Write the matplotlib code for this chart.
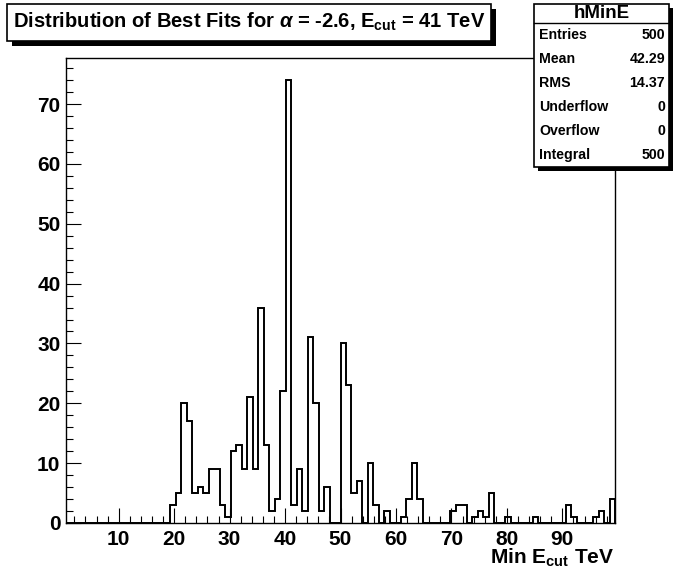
import numpy as np
import matplotlib
matplotlib.use("Agg")
import matplotlib.pyplot as plt
from matplotlib.patches import Rectangle
from matplotlib.ticker import MultipleLocator, FixedLocator

plt.rcParams['font.family'] = ['Liberation Sans', 'DejaVu Sans']
plt.rcParams['font.weight'] = 'bold'
plt.rcParams['mathtext.fontset'] = 'custom'
plt.rcParams['mathtext.rm'] = 'Liberation Sans:bold'
plt.rcParams['mathtext.bf'] = 'Liberation Sans:bold'
plt.rcParams['mathtext.it'] = 'Liberation Sans:italic'

# ---- data: best-fit E_cut values (TeV) and how many fits landed there ----
ecut_values = [20, 21, 22, 23, 24, 25, 26, 27, 28, 29, 30, 31, 32, 33, 34, 35,
               36, 37, 38, 39, 40, 41, 42, 43, 44, 45, 46, 47, 48, 50, 51, 52,
               53, 55, 56, 58, 61, 62, 63, 64, 70, 71, 72, 74, 75, 76, 77, 80,
               85, 91, 92, 96, 97, 99]
fit_counts = [3, 5, 20, 17, 5, 6, 5, 9, 9, 3, 1, 12, 13, 9, 21, 9,
              36, 13, 2, 4, 22, 74, 3, 9, 2, 31, 20, 2, 6, 30, 23, 5,
              7, 10, 3, 2, 1, 4, 10, 4, 2, 3, 3, 1, 2, 1, 5, 1,
              1, 3, 1, 1, 2, 4]
n_bins = 100
x_low, x_high = 0.5, 99.5

x_major_ticks = [10, 20, 30, 40, 50, 60, 70, 80, 90]
y_major_ticks = [0, 10, 20, 30, 40, 50, 60, 70]

title_text = r'Distribution of Best Fits for $\alpha$ = -2.6, E$_{\rm cut}$ = 41 TeV'
xlabel_text = r'Min E$_{\rm cut}$ TeV'
stats_name = 'hMinE'
stats_labels = ['Entries', 'Mean', 'RMS', 'Underflow', 'Overflow', 'Integral']
stats_values = ['500', '42.29', '14.37', '0', '0', '500']

# ---- figure ----
W, H = 678, 581
fig = plt.figure(figsize=(W / 100, H / 100), dpi=100)
fig.patch.set_facecolor('white')

ax_l, ax_r, ax_t, ax_b = 66, 615, 58, 523
ax = fig.add_axes([ax_l / W, 1 - ax_b / H, (ax_r - ax_l) / W, (ax_b - ax_t) / H])

edges = np.linspace(x_low, x_high, n_bins + 1)
ax.hist(ecut_values, bins=edges, weights=fit_counts, histtype='step',
        color='black', linewidth=1.4)

ax.set_xlim(x_low, x_high)
ax.set_ylim(0, max(fit_counts) * 1.05)

ax.xaxis.set_major_locator(FixedLocator(x_major_ticks))
ax.xaxis.set_minor_locator(MultipleLocator(2))
ax.yaxis.set_major_locator(FixedLocator(y_major_ticks))
ax.yaxis.set_minor_locator(MultipleLocator(2))
ax.tick_params(which='both', direction='in', top=False, right=False,
               labelsize=15, width=0.8)
ax.tick_params(which='major', length=10.5)
ax.tick_params(which='minor', length=5.2)
ax.tick_params(axis='x', pad=5)
ax.tick_params(axis='y', pad=4)
for lab in ax.get_xticklabels() + ax.get_yticklabels():
    lab.set_fontweight('bold')
for sp in ax.spines.values():
    sp.set_linewidth(1.0)

# x-axis title, right aligned at axis end
fig.text(ax_r / W - 1 / W, 1 - 564 / H, xlabel_text, ha='right', va='baseline',
         fontsize=15, fontweight='bold')


def px_rect(x0, y0, x1, y1, **kw):
    return Rectangle((x0 / W, 1 - y1 / H), (x1 - x0) / W, (y1 - y0) / H,
                     transform=fig.transFigure, **kw)


shadow = 5
# title box
tb = (7, 4, 491, 41)
fig.patches.append(px_rect(tb[0] + shadow, tb[1] + shadow, tb[2] + shadow, tb[3] + shadow,
                           facecolor='black', edgecolor='none', zorder=10))
fig.patches.append(px_rect(*tb, facecolor='white', edgecolor='black', linewidth=1.2, zorder=11))
fig.text((tb[0] + tb[2]) / 2 / W, 1 - 22 / H, title_text, ha='center', va='center',
         fontsize=14.5, fontweight='bold', zorder=12)

# stats box
sb = (534, 4, 669, 167)
fig.patches.append(px_rect(sb[0] + 4, sb[1] + 4, sb[2] + 4, sb[3] + 4,
                           facecolor='black', edgecolor='none', zorder=10))
fig.patches.append(px_rect(*sb, facecolor='white', edgecolor='black', linewidth=1.2, zorder=11))
sep_y = 23
fig.lines.append(plt.Line2D([sb[0] / W, sb[2] / W], [1 - sep_y / H, 1 - sep_y / H],
                            transform=fig.transFigure, color='black', linewidth=1.0, zorder=12))
fig.text((sb[0] + sb[2]) / 2 / W, 1 - 13.5 / H, stats_name, ha='center', va='center',
         fontsize=13.5, fontweight='bold', zorder=12)
row_h = (sb[3] - sep_y) / len(stats_labels)
for i, (lab, val) in enumerate(zip(stats_labels, stats_values)):
    yc = sep_y + row_h * (i + 0.5)
    fig.text(539 / W, 1 - yc / H, lab, ha='left', va='center', fontsize=10.2,
             fontweight='bold', zorder=12)
    fig.text(665 / W, 1 - yc / H, val, ha='right', va='center', fontsize=10.2,
             fontweight='bold', zorder=12)

fig.savefig('out.png', dpi=100, facecolor='white')
